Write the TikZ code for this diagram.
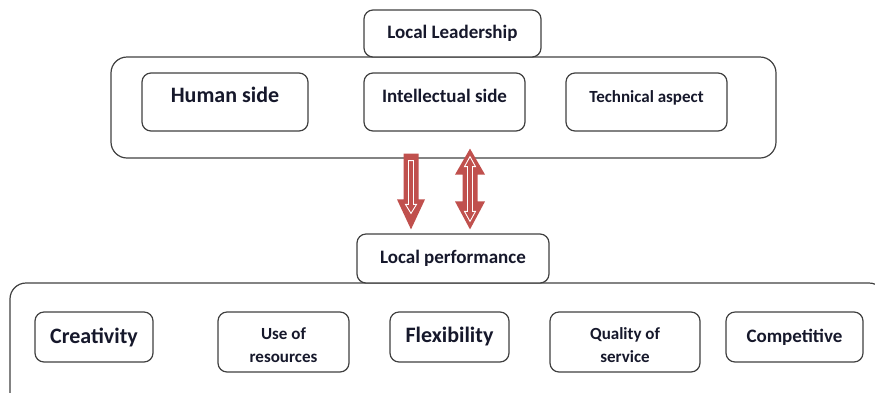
\documentclass[tikz,border=0pt]{standalone}
\usepackage{fontspec}
\setmainfont{Carlito}
\usetikzlibrary{positioning,calc}
\definecolor{Ink}{HTML}{16182B}
\definecolor{Edge}{HTML}{404040}
\definecolor{Brick}{HTML}{C0504D}
\tikzset{
  box/.style={draw=Edge,fill=white,line width=1.2pt,rounded corners=9pt,align=center,text=Ink,inner sep=0pt,font=\bfseries\fontsize{19}{23}\selectfont},
  frame/.style={draw=Edge,line width=1.2pt,rounded corners=16pt,inner sep=0pt},
  big/.style={font=\bfseries\fontsize{22}{26}\selectfont},
  small/.style={font=\bfseries\fontsize{17}{23}\selectfont},
  toprow/.style={box,minimum width=#1,minimum height=58pt,text height=12pt,text depth=12pt},
  botrow/.style={box,minimum width=#1,minimum height=50pt},
  tworow/.style={box,small,minimum width=#1,minimum height=60pt,text height=41pt},
  blockfill/.style={fill=Brick},
  blockline/.style={draw=white,line width=.9pt,line join=miter}
}
% block arrow pointing down: #1 tail, #2 tip
\newcommand{\blockdown}[2]{%
  \fill[blockfill] ($(#1)+(-7.5,0)$) -- ($(#1)+(7.5,0)$) -- ($(#2)+(7.5,-30)$) -- ($(#2)+(14,-30)$)
    -- (#2) -- ($(#2)+(-14,-30)$) -- ($(#2)+(-7.5,-30)$) -- cycle;
  \draw[blockline] ($(#1)+(-2.5,7)$) -- ($(#1)+(2.5,7)$) -- ($(#2)+(2.5,-25)$) -- ($(#2)+(5.5,-25)$)
    -- ($(#2)+(0,-16)$) -- ($(#2)+(-5.5,-25)$) -- ($(#2)+(-2.5,-25)$) -- cycle;
}
% block arrow with two heads: #1 upper tip, #2 lower tip
\newcommand{\blockboth}[2]{%
  \fill[blockfill] (#1) -- ($(#1)+(15,26)$) -- ($(#1)+(7.5,26)$) -- ($(#2)+(7.5,-28)$) -- ($(#2)+(15,-28)$)
    -- (#2) -- ($(#2)+(-15,-28)$) -- ($(#2)+(-7.5,-28)$) -- ($(#1)+(-7.5,26)$) -- ($(#1)+(-15,26)$) -- cycle;
  \draw[blockline] ($(#1)+(0,8)$) -- ($(#1)+(5.5,18)$) -- ($(#1)+(2.5,18)$) -- ($(#2)+(2.5,-18)$) -- ($(#2)+(5.5,-18)$)
    -- ($(#2)+(0,-8)$) -- ($(#2)+(-5.5,-18)$) -- ($(#2)+(-2.5,-18)$) -- ($(#1)+(-2.5,18)$) -- ($(#1)+(-5.5,18)$) -- cycle;
}

\begin{document}
\begin{tikzpicture}[x=1pt,y=-1pt]
  \useasboundingbox (0,0) rectangle (875,392);
  \clip (0,0) rectangle (875,392);

  \node[frame,minimum width=665pt,minimum height=101pt] (leader) at (443.5,107.5) {};
  \node[frame,minimum width=875pt,minimum height=127pt] (perfset) at (447.5,346.5) {};

  \node[box,minimum width=177pt,minimum height=47pt] (lead) at (452.5,33.5) {Local Leadership};
  \node[toprow=166pt,big] (human) at (225,102) {Human side};
  \node[toprow=161pt] (intel) at (444.5,102) {Intellectual side};
  \node[toprow=161pt,small] (tech) at (646.5,102) {Technical aspect};

  \node[box,minimum width=192pt,minimum height=49pt] (perf) at (453,258.5) {Local performance};
  \node[botrow=118pt,big] (creat) at (94,337) {Creativity};
  \node[tworow=131pt] (use) at (283.5,342) {Use of\\resources};
  \node[botrow=119pt,big] (flex) at (449.5,337) {Flexibility};
  \node[tworow=150pt] (qual) at (625,342) {Quality of\\service};
  \node[botrow=137pt] (comp) at (794.5,337) {Competitive};

  \coordinate (dtail) at ($(leader.south)+(-32.5,-5)$);
  \coordinate (dtip) at ($(perf.north)+(-42,-4)$);
  \coordinate (btop) at ($(leader.south)+(26.5,-10)$);
  \coordinate (bbot) at ($(perf.north)+(17,-4)$);
  \blockdown{dtail}{dtip}
  \blockboth{btop}{bbot}
\end{tikzpicture}
\end{document}
